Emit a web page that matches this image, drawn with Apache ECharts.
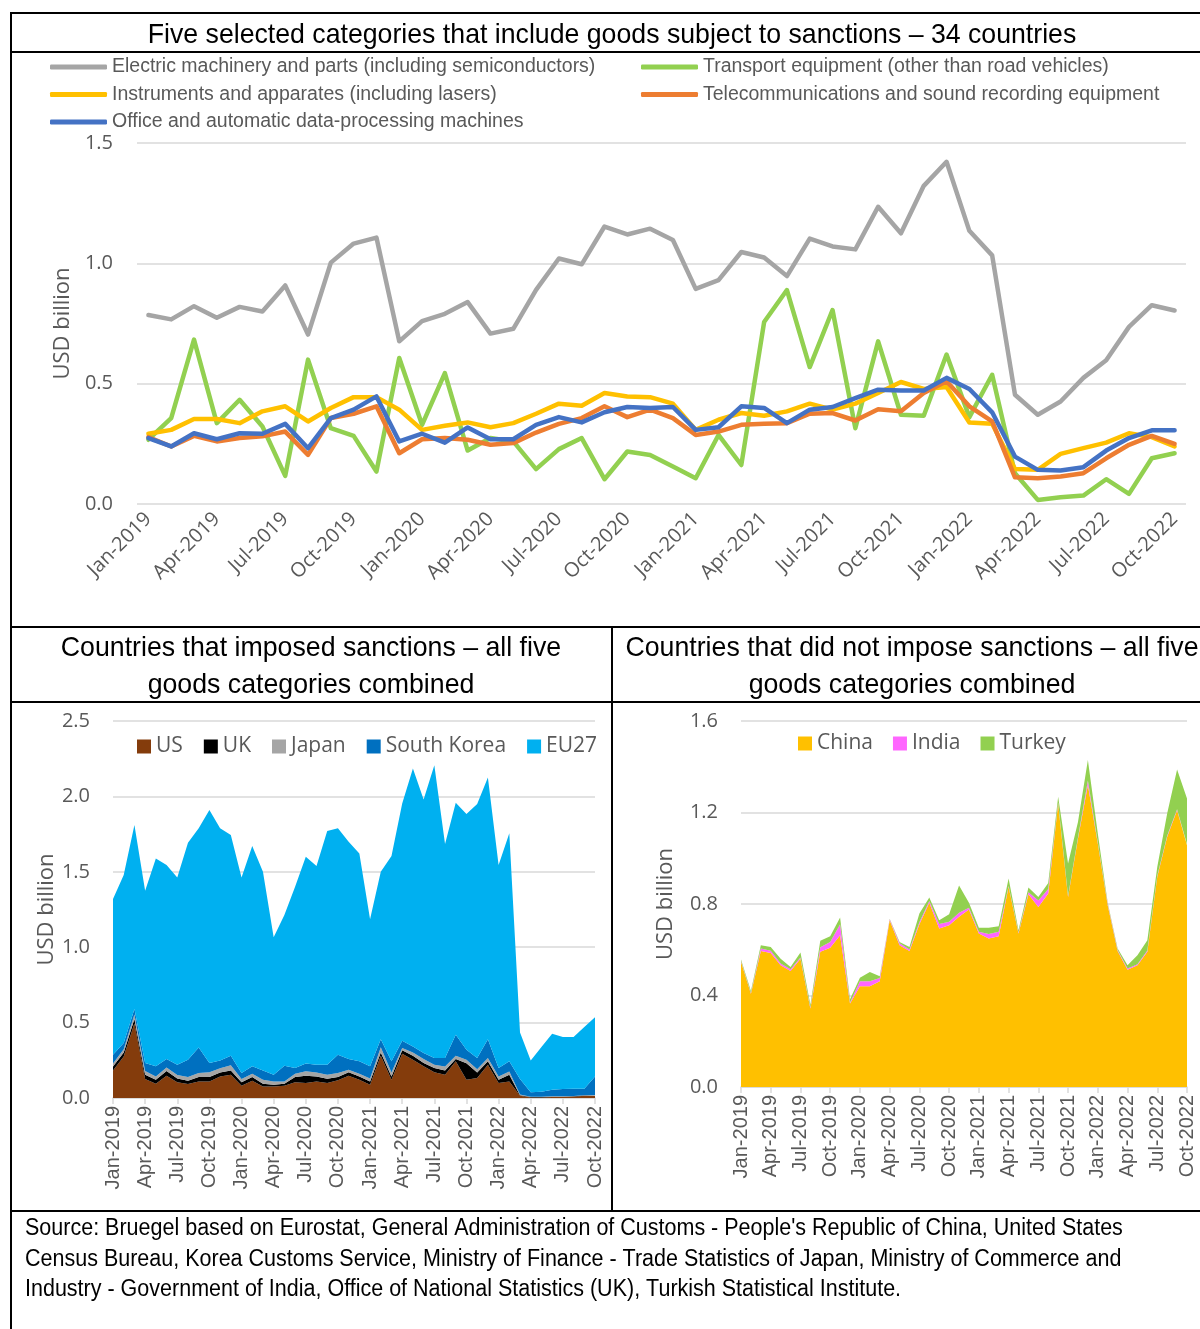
<!DOCTYPE html>
<html>
<head>
<meta charset="utf-8">
<script src="https://cdn.jsdelivr.net/npm/echarts@6/dist/echarts.min.js"></script>
<style>
  html, body { margin: 0; padding: 0; background: #fff; }
  #main { width: 1200px; height: 1329px; }
</style>
</head>
<body>
<div id="main"></div>
<script>
  // month labels Jan-2019 .. Oct-2022
  const monthNames = ['Jan', 'Feb', 'Mar', 'Apr', 'May', 'Jun', 'Jul', 'Aug', 'Sep', 'Oct', 'Nov', 'Dec'];
  const months = [];
  for (let y = 2019; y <= 2022; y++) {
    for (let m = 0; m < 12; m++) {
      if (y === 2022 && m > 9) break;
      months.push(monthNames[m] + '-' + y);
    }
  }

  // top chart - five categories, 34 countries (USD billion)
  const electric = [0.785,0.767,0.822,0.774,0.819,0.800,0.908,0.704,1.003,1.082,1.107,0.676,0.760,0.790,0.839,0.708,0.728,0.890,1.020,0.996,1.153,1.120,1.144,1.097,0.894,0.930,1.047,1.024,0.947,1.103,1.070,1.058,1.235,1.125,1.322,1.422,1.135,1.033,0.454,0.371,0.426,0.524,0.597,0.736,0.826,0.804];
  const transport = [0.267,0.357,0.683,0.336,0.433,0.322,0.117,0.600,0.315,0.283,0.135,0.607,0.329,0.544,0.222,0.274,0.260,0.145,0.228,0.274,0.103,0.218,0.204,0.156,0.107,0.287,0.162,0.756,0.889,0.569,0.806,0.315,0.676,0.371,0.367,0.621,0.361,0.537,0.128,0.017,0.028,0.035,0.103,0.042,0.190,0.211];
  const instruments = [0.292,0.308,0.353,0.353,0.336,0.385,0.406,0.343,0.399,0.444,0.444,0.392,0.308,0.325,0.339,0.319,0.336,0.375,0.417,0.408,0.461,0.447,0.444,0.417,0.308,0.350,0.378,0.367,0.385,0.417,0.392,0.417,0.461,0.507,0.478,0.486,0.339,0.333,0.145,0.142,0.208,0.232,0.255,0.294,0.278,0.239];
  const telecom = [0.278,0.239,0.283,0.260,0.274,0.281,0.301,0.204,0.357,0.375,0.406,0.211,0.269,0.274,0.267,0.246,0.253,0.297,0.333,0.357,0.406,0.361,0.392,0.357,0.287,0.301,0.329,0.333,0.336,0.375,0.378,0.347,0.394,0.385,0.461,0.510,0.406,0.343,0.111,0.107,0.114,0.128,0.190,0.246,0.283,0.250];
  const office = [0.274,0.239,0.294,0.269,0.294,0.292,0.333,0.232,0.357,0.392,0.447,0.260,0.292,0.255,0.318,0.269,0.269,0.329,0.361,0.339,0.381,0.403,0.399,0.403,0.308,0.319,0.406,0.399,0.336,0.392,0.403,0.440,0.475,0.472,0.472,0.524,0.478,0.381,0.197,0.142,0.139,0.153,0.222,0.274,0.306,0.306];

  // bottom left - countries that imposed sanctions (stacked)
  const us = [0.183,0.276,0.494,0.126,0.095,0.148,0.104,0.093,0.110,0.110,0.143,0.154,0.082,0.115,0.077,0.077,0.082,0.104,0.099,0.110,0.099,0.117,0.148,0.121,0.088,0.280,0.121,0.294,0.254,0.210,0.170,0.154,0.243,0.121,0.132,0.221,0.099,0.110,0.015,0.004,0.004,0.007,0.007,0.009,0.015,0.015];
  const uk = [0.026,0.026,0.030,0.029,0.026,0.031,0.026,0.022,0.029,0.029,0.026,0.029,0.022,0.024,0.018,0.011,0.013,0.035,0.049,0.033,0.029,0.022,0.022,0.022,0.022,0.022,0.022,0.022,0.026,0.022,0.029,0.029,0.015,0.110,0.037,0.022,0.022,0.044,0.004,0.002,0.002,0.002,0.002,0.002,0.002,0.002];
  const japan = [0.020,0.022,0.029,0.024,0.022,0.024,0.022,0.024,0.026,0.031,0.029,0.035,0.022,0.022,0.026,0.022,0.015,0.022,0.029,0.026,0.026,0.026,0.018,0.018,0.020,0.035,0.026,0.015,0.022,0.026,0.022,0.026,0.022,0.022,0.022,0.022,0.022,0.022,0.004,0.002,0.002,0.002,0.002,0.002,0.002,0.002];
  const korea = [0.058,0.040,0.037,0.053,0.067,0.055,0.069,0.115,0.170,0.062,0.051,0.062,0.040,0.049,0.062,0.044,0.104,0.038,0.051,0.051,0.067,0.122,0.070,0.082,0.080,0.053,0.074,0.049,0.040,0.040,0.044,0.056,0.140,0.067,0.074,0.125,0.056,0.067,0.103,0.030,0.034,0.044,0.049,0.049,0.043,0.124];
  const eu27 = [1.033,1.115,1.220,1.143,1.379,1.287,1.242,1.439,1.453,1.677,1.539,1.464,1.297,1.461,1.318,0.912,1.000,1.202,1.372,1.318,1.549,1.501,1.441,1.379,0.975,1.111,1.361,1.573,1.843,1.682,1.942,1.419,1.538,1.563,1.684,1.735,1.346,1.512,0.309,0.211,0.296,0.371,0.344,0.342,0.408,0.393];

  // bottom right - countries that did not impose sanctions (stacked)
  const china = [0.547,0.408,0.595,0.586,0.532,0.507,0.561,0.343,0.591,0.609,0.663,0.365,0.440,0.440,0.462,0.729,0.620,0.595,0.712,0.805,0.693,0.707,0.744,0.776,0.671,0.649,0.659,0.875,0.671,0.843,0.787,0.846,1.239,0.831,1.086,1.320,1.064,0.795,0.595,0.513,0.532,0.591,0.919,1.094,1.210,1.057];
  const india = [0.004,0.003,0.010,0.010,0.008,0.008,0.005,0.005,0.020,0.025,0.048,0.004,0.022,0.022,0.015,0.004,0.008,0.006,0.008,0.008,0.020,0.015,0.018,0.008,0.008,0.020,0.020,0.004,0.004,0.008,0.028,0.020,0.005,0.004,0.005,0.020,0.005,0.005,0.004,0.005,0.005,0.006,0.004,0.004,0.004,0.004];
  const turkey = [0.006,0.009,0.015,0.016,0.021,0.010,0.022,0.012,0.028,0.025,0.030,0.015,0.016,0.041,0.007,0.003,0.006,0.011,0.038,0.015,0.016,0.033,0.119,0.021,0.017,0.027,0.024,0.032,0.010,0.021,0.016,0.026,0.025,0.142,0.068,0.089,0.039,0.005,0.006,0.014,0.039,0.045,0.039,0.098,0.174,0.200];

  const SANS = '"Liberation Sans", Arial, sans-serif';
  const UI = '"Open Sans", sans-serif';
  const GREY_TXT = '#595959';
  const GRID_LINE = '#D9D9D9';

  function lineSeries(name, data, color) {
    return {
      name: name, type: 'line', data: data, color: color,
      xAxisIndex: 0, yAxisIndex: 0,
      symbol: 'none', lineStyle: {width: 4.5, color: color, cap: 'round', join: 'round'}
    };
  }
  function areaSeries(name, data, color, idx, stack) {
    return {
      name: name, type: 'line', data: data, color: color, stack: stack,
      xAxisIndex: idx, yAxisIndex: idx,
      symbol: 'none', lineStyle: {width: 0}, areaStyle: {color: color, opacity: 1}
    };
  }
  function bottomX(idx) {
    return {
      type: 'category', gridIndex: idx, data: months, boundaryGap: false,
      axisLine: {lineStyle: {color: GRID_LINE, width: 1.5}},
      axisTick: {show: true, interval: 2, length: 6, lineStyle: {color: GRID_LINE, width: 1.5}},
      axisLabel: {interval: 2, rotate: 90, fontFamily: SANS, fontSize: 20, color: GREY_TXT, margin: 8}
    };
  }
  function yAx(idx, max, step, gap, nameGap) {
    return {
      type: 'value', gridIndex: idx, min: 0, max: max, interval: step,
      axisLine: {show: false}, axisTick: {show: false},
      axisLabel: {fontFamily: UI, fontSize: 20, color: GREY_TXT, margin: gap, formatter: v => v.toFixed(1)},
      splitLine: {lineStyle: {color: GRID_LINE, width: 1.5}},
      name: 'USD billion', nameLocation: 'middle', nameGap: nameGap,
      nameTextStyle: {fontFamily: UI, fontSize: 22, color: GREY_TXT}
    };
  }

  const legendText = {fontFamily: SANS, fontSize: 19.5, color: GREY_TXT, lineHeight: 24};
  // text squeezed horizontally to mimic the condensed face of the original
  const txt = (text, x, y, size, align, sx) => ({
    type: 'text', silent: true, x: x, y: y, scaleX: sx,
    style: {text: text, x: 0, y: 0, font: size + 'px ' + SANS, fill: '#000',
      align: align, textAlign: align, verticalAlign: 'middle', textVerticalAlign: 'middle'}
  });
  const rule = (x1, y1, x2, y2) => ({
    type: 'line', silent: true, shape: {x1: x1, y1: y1, x2: x2, y2: y2},
    style: {stroke: '#000', lineWidth: 2}
  });

  const chart = echarts.init(document.getElementById('main'));
  chart.setOption({
    animation: false,
    grid: [
      {left: 137, top: 143, width: 1049, height: 361},
      {left: 113, top: 721, width: 482, height: 377},
      {left: 741, top: 721, width: 446, height: 366}
    ],
    legend: [
      {left: 50, top: 55, padding: 0, orient: 'vertical', itemWidth: 57, itemHeight: 5, itemGap: 3.5, icon: 'roundRect',
        data: ['Electric machinery and parts (including semiconductors)', 'Instruments and apparates (including lasers)', 'Office and automatic data-processing machines'],
        textStyle: legendText},
      {left: 641, top: 55, padding: 0, orient: 'vertical', itemWidth: 57, itemHeight: 5, itemGap: 3.5, icon: 'roundRect',
        data: ['Transport equipment (other than road vehicles)', 'Telecommunications and sound recording equipment'],
        textStyle: legendText},
      {left: 137, top: 736, padding: 0, itemWidth: 14, itemHeight: 14, itemGap: 21, icon: 'rect',
        data: ['US', 'UK', 'Japan', 'South Korea', 'EU27'],
        textStyle: {fontFamily: UI, fontSize: 21, color: GREY_TXT}},
      {left: 798, top: 733, padding: 0, itemWidth: 14, itemHeight: 14, itemGap: 20, icon: 'rect',
        data: ['China', 'India', 'Turkey'],
        textStyle: {fontFamily: UI, fontSize: 21, color: GREY_TXT}}
    ],
    xAxis: [
      {type: 'category', gridIndex: 0, data: months, boundaryGap: true,
        axisLine: {show: false}, axisTick: {show: false},
        axisLabel: {interval: 2, rotate: 45, fontFamily: UI, fontSize: 20, color: GREY_TXT, margin: 12}},
      bottomX(1),
      bottomX(2)
    ],
    yAxis: [
      yAx(0, 1.5, 0.5, 24, 52),
      yAx(1, 2.5, 0.5, 23, 51),
      yAx(2, 1.6, 0.4, 23, 64)
    ],
    series: [
      lineSeries('Electric machinery and parts (including semiconductors)', electric, '#A5A5A5'),
      lineSeries('Transport equipment (other than road vehicles)', transport, '#92D050'),
      lineSeries('Instruments and apparates (including lasers)', instruments, '#FFC000'),
      lineSeries('Telecommunications and sound recording equipment', telecom, '#ED7D31'),
      lineSeries('Office and automatic data-processing machines', office, '#4472C4'),
      areaSeries('US', us, '#843C0C', 1, 'left'),
      areaSeries('UK', uk, '#000000', 1, 'left'),
      areaSeries('Japan', japan, '#A5A5A5', 1, 'left'),
      areaSeries('South Korea', korea, '#0070C0', 1, 'left'),
      areaSeries('EU27', eu27, '#00B0F0', 1, 'left'),
      areaSeries('China', china, '#FFC000', 2, 'right'),
      areaSeries('India', india, '#FF66FF', 2, 'right'),
      areaSeries('Turkey', turkey, '#92D050', 2, 'right')
    ],
    graphic: [
      rule(10, 13, 1200, 13),
      rule(11, 13, 11, 1329),
      rule(10, 52, 1200, 52),
      rule(10, 627, 1200, 627),
      rule(10, 702, 1200, 702),
      rule(612, 627, 612, 1211),
      rule(10, 1211, 1200, 1211),
      txt('Five selected categories that include goods subject to sanctions \u2013 34 countries', 612, 35, 28, 'center', 0.953),
      txt('Countries that imposed sanctions \u2013 all five', 311, 648, 28, 'center', 0.954),
      txt('goods categories combined', 311, 685, 28, 'center', 0.954),
      txt('Countries that did not impose sanctions \u2013 all five', 912, 648, 28, 'center', 0.954),
      txt('goods categories combined', 912, 685, 28, 'center', 0.954),
      txt('Source: Bruegel based on Eurostat, General Administration of Customs - People\'s Republic of China, United States', 25, 1229, 23, 'left', 0.935),
      txt('Census Bureau, Korea Customs Service, Ministry of Finance - Trade Statistics of Japan, Ministry of Commerce and', 25, 1260, 23, 'left', 0.935),
      txt('Industry - Government of India, Office of National Statistics (UK), Turkish Statistical Institute.', 25, 1290, 23, 'left', 0.935)
    ]
  });
</script>
</body>
</html>
